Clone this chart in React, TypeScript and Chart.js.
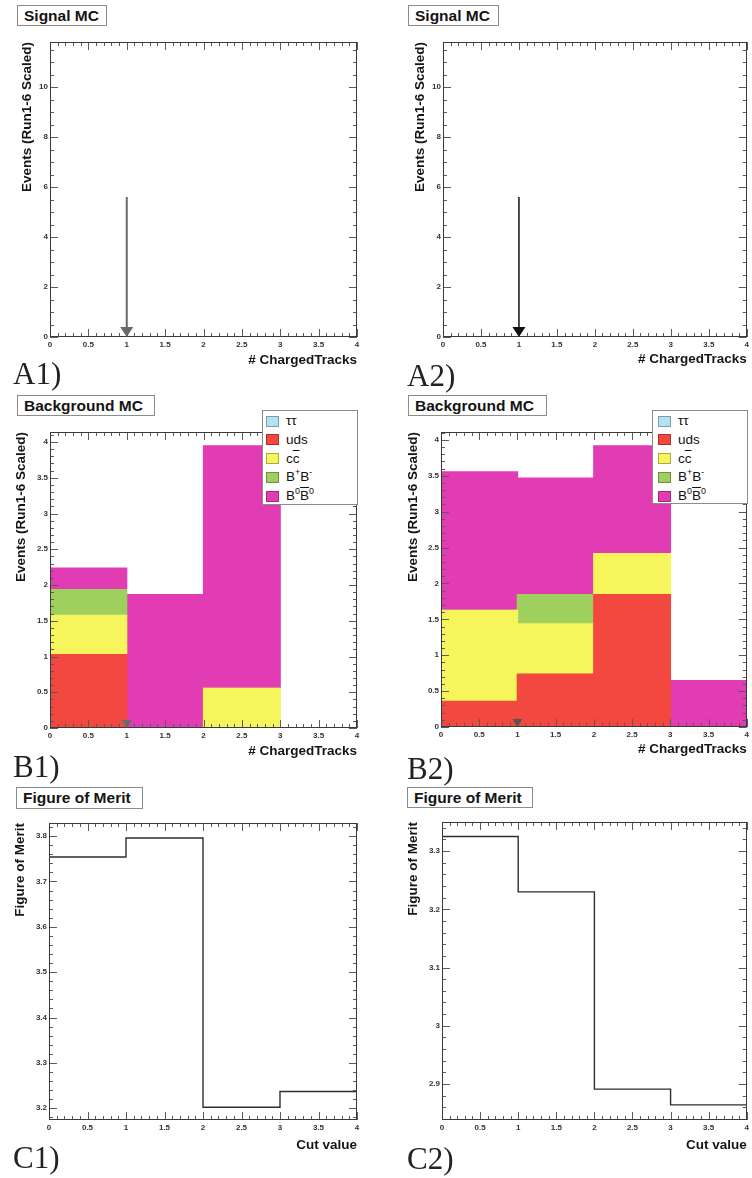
import React, { useEffect, useRef } from 'react';
import { Chart, registerables } from 'chart.js';
Chart.register(...registerables);

const SANS = '"Liberation Sans", Arial, Helvetica, sans-serif';
const SERIF = '"Liberation Serif", "Times New Roman", serif';

// ---------------- data ----------------
const binCenters = [0.5, 1.5, 2.5, 3.5];
const binEdges = [0, 1, 2, 3, 4];

const xTicks = [0, 0.5, 1, 1.5, 2, 2.5, 3, 3.5, 4];
const yTicksA = [0, 2, 4, 6, 8, 10];
const yTicksB = [0, 0.5, 1, 1.5, 2, 2.5, 3, 3.5, 4];
const yTicksC1 = [3.2, 3.3, 3.4, 3.5, 3.6, 3.7, 3.8];
const yTicksC2 = [2.9, 3, 3.1, 3.2, 3.3];

const yRangeA = [0, 11.8];
const yRangeB1 = [0, 4.14];
const yRangeB2 = [0, 4.11];
const yRangeC1 = [3.174, 3.829];
const yRangeC2 = [2.838, 3.35];

// Signal MC (empty histograms) and the cut arrow
const signalA1 = [0, 0, 0, 0];
const signalA2 = [0, 0, 0, 0];
const cutValue = 1;
const arrowTopA = 5.6;
const arrowTopB = 0;

// Background MC components (stacked, bottom -> top after ττ)
const seriesNames = ['ττ', 'uds', 'cc̄', 'B⁺B⁻', 'B⁰B̄⁰'];
const seriesColors = ['#b3e3f2', '#f2483f', '#f6f55c', '#9fcf5c', '#e23cb4'];

const b1TauTau = [0, 0, 0, 0];
const b1Uds = [1.03, 0, 0, 0];
const b1Ccbar = [0.55, 0, 0.56, 0];
const b1BpBm = [0.36, 0, 0, 0];
const b1B0B0 = [0.3, 1.87, 3.39, 0];

const b2TauTau = [0, 0, 0, 0];
const b2Uds = [0.36, 0.74, 1.85, 0];
const b2Ccbar = [1.27, 0.7, 0.57, 0];
const b2BpBm = [0, 0.41, 0, 0];
const b2B0B0 = [1.93, 1.62, 1.5, 0.65];

// Figure of merit per cut value bin
const fomC1 = [3.754, 3.796, 3.202, 3.237];
const fomC2 = [3.325, 3.23, 2.891, 2.864];

// ---------------- layout ----------------
type Geom = { panelX: number; plotL: number; plotR: number; plotT: number; plotB: number; yTitleX: number; xTitleY: number };
const PAD_TOP = 14;
const PANEL_W = 376;

const geomA1: Geom = { panelX: 0, plotL: 50, plotR: 357, plotT: 42, plotB: 337, yTitleX: 27.5, xTitleY: 360 };
const geomA2: Geom = { panelX: 376, plotL: 443, plotR: 748, plotT: 42, plotB: 337, yTitleX: 420, xTitleY: 359 };
const geomB1: Geom = { panelX: 0, plotL: 50, plotR: 357, plotT: 432, plotB: 728, yTitleX: 21, xTitleY: 751 };
const geomB2: Geom = { panelX: 376, plotL: 441, plotR: 748, plotT: 432, plotB: 727, yTitleX: 413.5, xTitleY: 749 };
const geomC1: Geom = { panelX: 0, plotL: 49, plotR: 357, plotT: 823, plotB: 1120, yTitleX: 20, xTitleY: 1145 };
const geomC2: Geom = { panelX: 376, plotL: 442, plotR: 747, plotT: 822, plotB: 1120, yTitleX: 413.5, xTitleY: 1145 };

function canvasBox(g: Geom) {
  const top = g.plotT - PAD_TOP;
  const bottom = g.xTitleY + 10;
  return { left: g.panelX, top, width: PANEL_W, height: bottom - top, bottom };
}

const fmt = (v: any) => String(Math.round(Number(v) * 1000) / 1000);

// ---------------- plugins ----------------
function stepValues(min: number, max: number, step: number) {
  const out: number[] = [];
  const start = Math.ceil(min / step - 1e-9);
  for (let k = start; k * step <= max + 1e-9; k++) out.push(k * step);
  return out;
}

const frameTicks = {
  id: 'frameTicks',
  afterDatasetsDraw(chart: any, _a: any, opts: any) {
    const { ctx, chartArea: a, scales } = chart;
    const x = scales.x, y = scales.y;
    ctx.save();
    ctx.lineWidth = 1;
    ctx.strokeStyle = opts.tickColor;
    const isMajor = (v: number, list: number[]) => list.some((t) => Math.abs(t - v) < 1e-6);
    const xMaj = x.ticks.map((t: any) => t.value);
    const yMaj = y.ticks.map((t: any) => t.value);
    const xStep = (xMaj[1] - xMaj[0]) / opts.xMinor;
    const yStep = (yMaj[1] - yMaj[0]) / opts.yMinor;
    ctx.beginPath();
    stepValues(x.min, x.max, xStep).forEach((v) => {
      const L = isMajor(v, xMaj) ? opts.major : opts.minor;
      const p = Math.round(x.getPixelForValue(v)) + 0.5;
      ctx.moveTo(p, a.bottom); ctx.lineTo(p, a.bottom - L);
      ctx.moveTo(p, a.top); ctx.lineTo(p, a.top + L);
    });
    stepValues(y.min, y.max, yStep).forEach((v) => {
      const L = isMajor(v, yMaj) ? opts.major : opts.minor;
      const p = Math.round(y.getPixelForValue(v)) + 0.5;
      ctx.moveTo(a.left, p); ctx.lineTo(a.left + L, p);
      ctx.moveTo(a.right, p); ctx.lineTo(a.right - L, p);
    });
    ctx.stroke();
    ctx.strokeStyle = opts.frameColor;
    ctx.strokeRect(Math.round(a.left) + 0.5, Math.round(a.top) + 0.5, Math.round(a.right - a.left) - 1, Math.round(a.bottom - a.top) - 1);
    ctx.restore();
  },
};

const cutArrow = {
  id: 'cutArrow',
  afterDatasetsDraw(chart: any, _a: any, opts: any) {
    if (!opts || opts.x == null) return;
    const { ctx, scales } = chart;
    const px = scales.x.getPixelForValue(opts.x);
    const yTip = scales.y.getPixelForValue(scales.y.min);
    const yTop = scales.y.getPixelForValue(opts.top);
    ctx.save();
    ctx.strokeStyle = opts.color;
    ctx.fillStyle = opts.color;
    ctx.lineWidth = opts.width;
    if (yTop < yTip - opts.headH) {
      ctx.beginPath();
      ctx.moveTo(px, yTop);
      ctx.lineTo(px, yTip - opts.headH);
      ctx.stroke();
    }
    ctx.beginPath();
    ctx.moveTo(px - opts.headW / 2, yTip - opts.headH);
    ctx.lineTo(px + opts.headW / 2, yTip - opts.headH);
    ctx.lineTo(px, yTip);
    ctx.closePath();
    ctx.fill();
    ctx.restore();
  },
};

// ---------------- options ----------------
function buildOptions(g: Geom, yRange: number[], yTicks: number[], yMinor: number, yTitle: string, xTitle: string, arrow: any) {
  const box = canvasBox(g);
  const titleFont = { family: SANS, size: 13.5, weight: 'bold', lineHeight: 1 };
  const tickFont = { family: SANS, size: 8, weight: 'bold' };
  return {
    responsive: false,
    animation: false,
    devicePixelRatio: 1,
    events: [],
    layout: { padding: { left: 0, top: PAD_TOP, right: g.panelX + PANEL_W - g.plotR, bottom: 0 } },
    plugins: {
      legend: { display: false },
      tooltip: { enabled: false },
      frameTicks: { xMinor: 5, yMinor, major: 8, minor: 4, tickColor: '#5a5a5a', frameColor: '#3a3a3a' },
      cutArrow: arrow || {},
    },
    scales: {
      x: {
        type: 'linear', min: 0, max: 4, offset: false, bounds: 'data',
        grid: { display: false, drawTicks: false }, border: { display: false },
        ticks: { autoSkip: false, maxRotation: 0, minRotation: 0, padding: 3, font: tickFont, color: '#333', callback: fmt },
        afterBuildTicks: (s: any) => { s.ticks = xTicks.map((v) => ({ value: v })); },
        afterFit: (s: any) => { s.height = box.bottom - g.plotB; },
        title: { display: true, text: xTitle, align: 'end', color: '#151515', font: titleFont, padding: { top: 0, bottom: box.bottom - g.xTitleY - 6.75 } },
      },
      y: {
        type: 'linear', min: yRange[0], max: yRange[1], bounds: 'data', beginAtZero: false, stacked: true,
        grid: { display: false, drawTicks: false }, border: { display: false },
        ticks: { autoSkip: false, padding: 2, font: tickFont, color: '#333', callback: fmt },
        afterBuildTicks: (s: any) => { s.ticks = yTicks.map((v) => ({ value: v })); },
        afterFit: (s: any) => { s.width = g.plotL - g.panelX; },
        title: { display: true, text: yTitle, align: 'end', color: '#151515', font: titleFont, padding: { top: g.yTitleX - g.panelX - 6.75, bottom: 0 } },
      },
    },
  };
}

// one histogram bin spans one unit of the x scale
const binWidthPx = (g: Geom) => (g.plotR - g.plotL) / (binEdges[binEdges.length - 1] - binEdges[0]) + 0.5;

function barSet(g: Geom, label: string, values: number[], color: string) {
  return {
    label,
    data: binCenters.map((x, i) => ({ x, y: values[i] })),
    backgroundColor: color,
    borderWidth: 0,
    barThickness: binWidthPx(g),
    stack: 'mc',
  };
}

function stepSet(label: string, values: number[]) {
  return {
    label,
    data: binEdges.map((x, i) => ({ x, y: values[Math.min(i, values.length - 1)] })),
    stepped: true,
    borderColor: '#2e2e2e',
    borderWidth: 1.4,
    pointRadius: 0,
    fill: false,
  };
}

// ---------------- components ----------------
function ChartPanel({ geom, makeConfig }: { geom: Geom; makeConfig: () => any }) {
  const ref = useRef<HTMLCanvasElement>(null);
  const box = canvasBox(geom);
  useEffect(() => {
    const chart = new Chart(ref.current as HTMLCanvasElement, makeConfig());
    return () => chart.destroy();
  }, []);
  return (
    <canvas
      ref={ref}
      width={box.width}
      height={box.height}
      style={{ position: 'absolute', left: box.left, top: box.top, width: box.width, height: box.height }}
    />
  );
}

function TitleBox({ left, top, width, height, text }: any) {
  return (
    <div
      style={{
        position: 'absolute', left, top, width, height, boxSizing: 'border-box',
        border: '1px solid #8c8c8c', background: '#fff', font: `bold 15.5px ${SANS}`,
        lineHeight: `${height - 2}px`, paddingLeft: 6, color: '#141414', whiteSpace: 'nowrap',
      }}
    >
      {text}
    </div>
  );
}

function PanelLabel({ left, baseline, text }: any) {
  return (
    <div style={{ position: 'absolute', left, top: baseline - 26, font: `31px ${SERIF}`, lineHeight: '31px', color: '#222' }}>
      {text}
    </div>
  );
}

const sup: React.CSSProperties = { fontSize: 9, position: 'relative', top: -6, lineHeight: 0 };
const over: React.CSSProperties = { textDecoration: 'overline' };
function legendText(i: number) {
  const name = seriesNames[i];
  if (i === 2) return (<>c<span style={over}>c</span></>);
  if (i === 3) return (<>B<span style={sup}>+</span>B<span style={sup}>-</span></>);
  if (i === 4) return (<>B<span style={sup}>0</span><span style={over}>B</span><span style={sup}>0</span></>);
  return name;
}

function Legend({ left, top, width, height, swatchX, textX }: any) {
  const rowTop = 10;
  const rowStep = 18.8;
  return (
    <div style={{ position: 'absolute', left, top, width, height, boxSizing: 'border-box', border: '1px solid #8c8c8c', background: '#fff' }}>
      {seriesNames.map((_, i) => {
        const cy = rowTop + i * rowStep;
        return (
          <React.Fragment key={i}>
            <div style={{ position: 'absolute', left: swatchX, top: cy - 5.5, width: 13, height: 11, boxSizing: 'border-box', background: seriesColors[i], border: '1px solid rgba(0,0,0,0.3)' }} />
            <div style={{ position: 'absolute', left: textX, top: cy - 8, font: `13.5px ${SANS}`, lineHeight: '16px', color: '#111', whiteSpace: 'nowrap' }}>
              {legendText(i)}
            </div>
          </React.Fragment>
        );
      })}
    </div>
  );
}

const EVENTS = 'Events (Run1-6 Scaled)';
const TRACKS = '# ChargedTracks';
const FOM = 'Figure of Merit';
const CUT = 'Cut value';

const bgSets = (g: Geom, vals: number[][]) => vals.map((v, i) => barSet(g, seriesNames[i], v, seriesColors[i]));

export default function App() {
  return (
    <div style={{ position: 'absolute', left: 0, top: 0, width: 752, height: 1178, background: '#fff', overflow: 'hidden' }}>
      {/* A row */}
      <ChartPanel geom={geomA1} makeConfig={() => ({
        type: 'bar',
        data: { datasets: [barSet(geomA1, 'Signal MC', signalA1, '#3050d0')] },
        options: buildOptions(geomA1, yRangeA, yTicksA, 4, EVENTS, TRACKS, { x: cutValue, top: arrowTopA, color: '#6a6a6a', width: 2, headW: 13, headH: 10 }),
        plugins: [frameTicks, cutArrow],
      })} />
      <ChartPanel geom={geomA2} makeConfig={() => ({
        type: 'bar',
        data: { datasets: [barSet(geomA2, 'Signal MC', signalA2, '#3050d0')] },
        options: buildOptions(geomA2, yRangeA, yTicksA, 4, EVENTS, TRACKS, { x: cutValue, top: arrowTopA, color: '#111', width: 1.5, headW: 13, headH: 10 }),
        plugins: [frameTicks, cutArrow],
      })} />
      {/* B row */}
      <ChartPanel geom={geomB1} makeConfig={() => ({
        type: 'bar',
        data: { datasets: bgSets(geomB1, [b1TauTau, b1Uds, b1Ccbar, b1BpBm, b1B0B0]) },
        options: buildOptions(geomB1, yRangeB1, yTicksB, 5, EVENTS, TRACKS, { x: cutValue, top: arrowTopB, color: '#6a6a6a', width: 1, headW: 10, headH: 8 }),
        plugins: [frameTicks, cutArrow],
      })} />
      <ChartPanel geom={geomB2} makeConfig={() => ({
        type: 'bar',
        data: { datasets: bgSets(geomB2, [b2TauTau, b2Uds, b2Ccbar, b2BpBm, b2B0B0]) },
        options: buildOptions(geomB2, yRangeB2, yTicksB, 5, EVENTS, TRACKS, { x: cutValue, top: arrowTopB, color: '#555', width: 1, headW: 10, headH: 8 }),
        plugins: [frameTicks, cutArrow],
      })} />
      {/* C row */}
      <ChartPanel geom={geomC1} makeConfig={() => ({
        type: 'line',
        data: { datasets: [stepSet('Figure of Merit', fomC1)] },
        options: buildOptions(geomC1, yRangeC1, yTicksC1, 5, FOM, CUT, null),
        plugins: [frameTicks],
      })} />
      <ChartPanel geom={geomC2} makeConfig={() => ({
        type: 'line',
        data: { datasets: [stepSet('Figure of Merit', fomC2)] },
        options: buildOptions(geomC2, yRangeC2, yTicksC2, 5, FOM, CUT, null),
        plugins: [frameTicks],
      })} />

      <TitleBox left={17} top={5} width={90} height={21} text="Signal MC" />
      <TitleBox left={408} top={5} width={91} height={21} text="Signal MC" />
      <TitleBox left={17} top={395} width={138} height={21} text="Background MC" />
      <TitleBox left={408} top={395} width={139} height={21} text="Background MC" />
      <TitleBox left={16} top={787} width={127} height={22} text="Figure of Merit" />
      <TitleBox left={407} top={787} width={126} height={21} text="Figure of Merit" />

      <Legend left={262} top={410} width={96} height={95} swatchX={3} textX={23} />
      <Legend left={652} top={410} width={96} height={94} swatchX={5} textX={25} />

      <PanelLabel left={13} baseline={384} text="A1)" />
      <PanelLabel left={407} baseline={386} text="A2)" />
      <PanelLabel left={13} baseline={777} text="B1)" />
      <PanelLabel left={407} baseline={779} text="B2)" />
      <PanelLabel left={13} baseline={1168} text="C1)" />
      <PanelLabel left={407} baseline={1169} text="C2)" />
    </div>
  );
}
